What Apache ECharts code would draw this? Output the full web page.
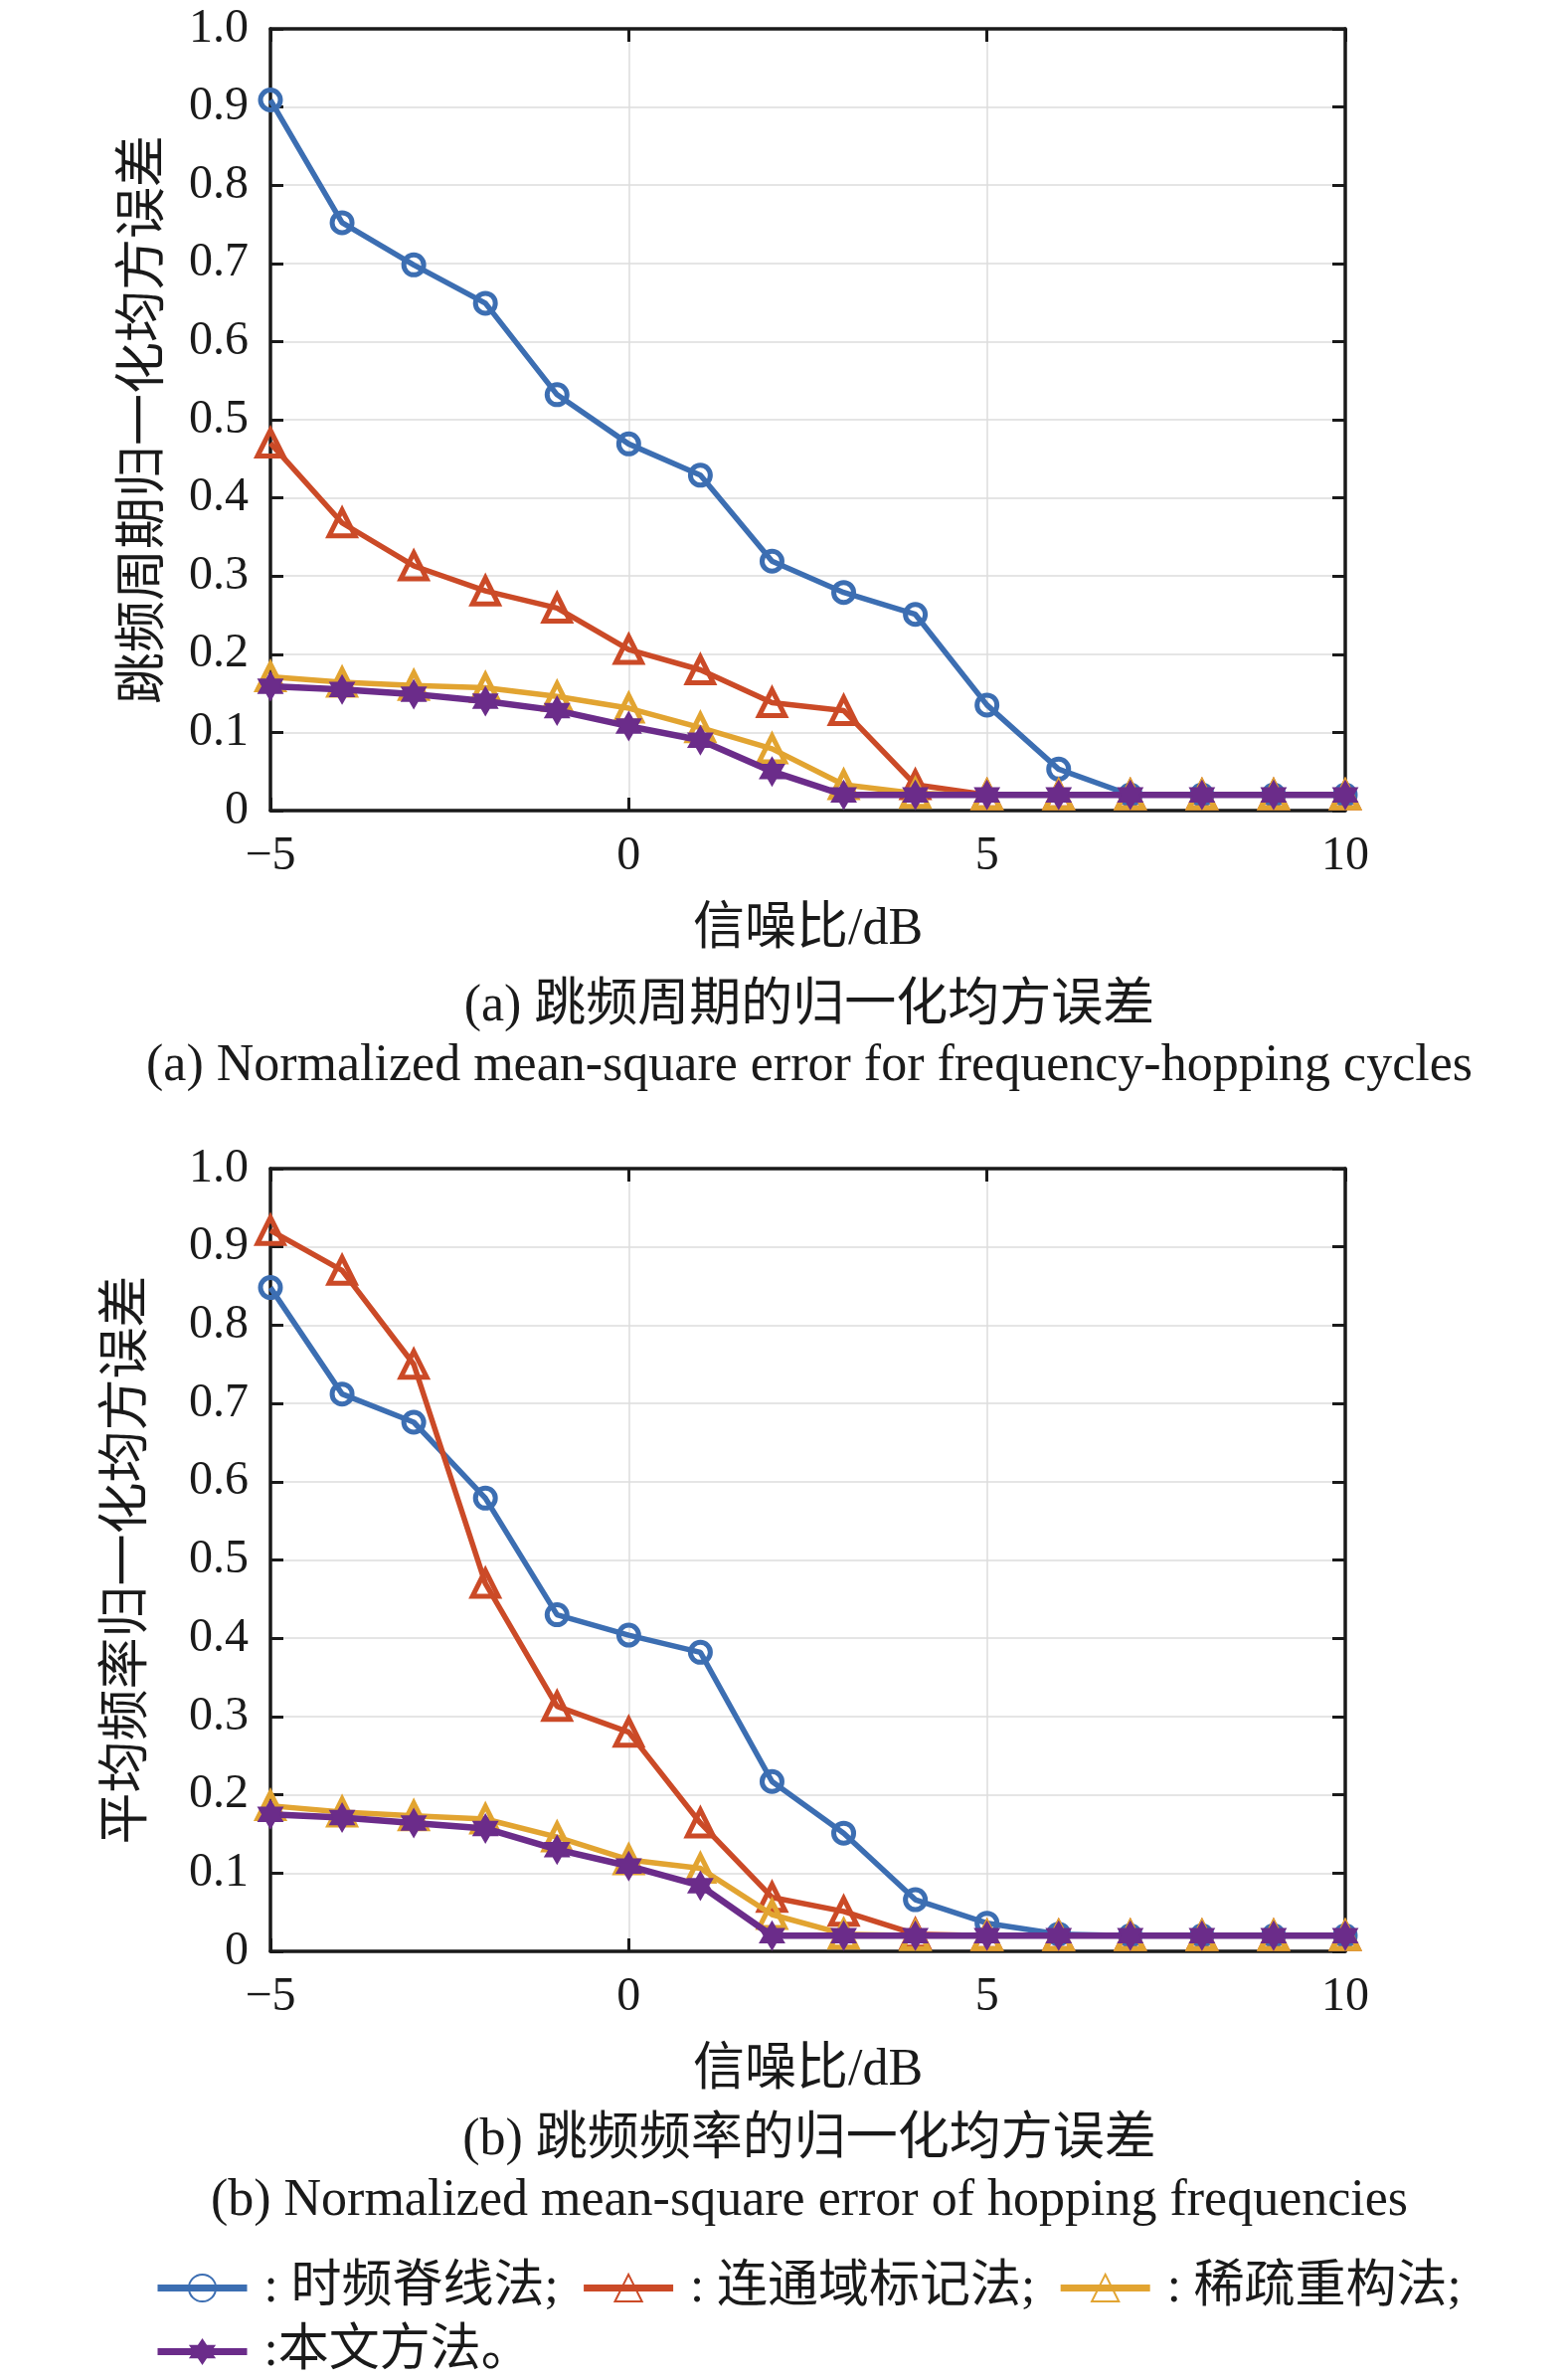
<!DOCTYPE html>
<html>
<head>
<meta charset="utf-8">
<script src="https://cdn.jsdelivr.net/npm/echarts@6/dist/echarts.min.js"></script>
<style>
  html, body { margin: 0; padding: 0; background: #fff; }
  #chart { width: 1575px; height: 2393px; }
</style>
</head>
<body>
<div id="chart"></div>
<script>
'use strict';
// SNR (dB)
var snr = [-5, -4, -3, -2, -1, 0, 1, 2, 3, 4, 5, 6, 7, 8, 9, 10];
var methods = ['时频脊线法', '连通域标记法', '稀疏重构法', '本文方法'];
var xTicks = [-5, 0, 5, 10];

// (a) hopping cycle NMSE
var cycleRidge = [0.909, 0.752, 0.698, 0.649, 0.532, 0.469, 0.429, 0.319, 0.279, 0.251, 0.135, 0.053, 0.02, 0.02, 0.02, 0.02];
var cycleLabel = [0.47, 0.368, 0.313, 0.281, 0.259, 0.206, 0.18, 0.138, 0.128, 0.033, 0.02, 0.02, 0.02, 0.02, 0.02, 0.02];
var cycleSparse = [0.171, 0.164, 0.16, 0.157, 0.146, 0.131, 0.106, 0.079, 0.033, 0.022, 0.02, 0.02, 0.02, 0.02, 0.02, 0.02];
var cycleProposed = [0.159, 0.155, 0.149, 0.14, 0.128, 0.108, 0.09, 0.05, 0.02, 0.02, 0.02, 0.02, 0.02, 0.02, 0.02, 0.02];

// (b) hopping frequency NMSE
var freqRidge = [0.848, 0.712, 0.676, 0.579, 0.43, 0.404, 0.382, 0.217, 0.151, 0.066, 0.036, 0.022, 0.02, 0.02, 0.02, 0.02];
var freqLabel = [0.921, 0.87, 0.75, 0.47, 0.313, 0.28, 0.164, 0.069, 0.051, 0.022, 0.02, 0.02, 0.02, 0.02, 0.02, 0.02];
var freqSparse = [0.186, 0.178, 0.173, 0.169, 0.146, 0.117, 0.106, 0.047, 0.022, 0.02, 0.02, 0.02, 0.02, 0.02, 0.02, 0.02];
var freqProposed = [0.175, 0.171, 0.164, 0.157, 0.13, 0.109, 0.084, 0.02, 0.02, 0.02, 0.02, 0.02, 0.02, 0.02, 0.02, 0.02];

var FONT = '"Liberation Serif", "Noto Sans CJK SC", serif';
var INK = '#1a1a1a';
var colors = ['#3c6eb2', '#cb4a27', '#e2a431', '#6b2c8a'];
var hexagram = 'path://M0,-10L2.887,-5L8.66,-5L5.774,0L8.66,5L2.887,5L0,10L-2.887,5L-8.66,5L-5.774,0L-8.66,-5L-2.887,-5Z';
var symbols = ['circle', 'triangle', 'triangle', hexagram];
var symbolSizes = [20, 26, 26, 31];

function pairs(ys) {
  return snr.map(function (x, i) { return [x, ys[i]]; });
}

function makeSeries(ys, k, gi) {
  var hollow = k < 3;
  return {
    name: methods[k],
    type: 'line',
    xAxisIndex: gi,
    yAxisIndex: gi,
    data: pairs(ys),
    symbol: symbols[k],
    symbolSize: symbolSizes[k],
    symbolKeepAspect: true,
    showAllSymbol: true,
    lineStyle: { color: colors[k], width: k === 3 ? 6.5 : 5.5 },
    itemStyle: {
      color: hollow ? 'rgba(255,255,255,0)' : colors[k],
      borderColor: colors[k],
      borderWidth: hollow ? 5 : 0
    },
    emphasis: { disabled: true },
    z: 2 + k
  };
}

var frame = { show: true, onZero: false, lineStyle: { color: INK, width: 3.5 } };
var tickIn = { show: true, inside: true, length: 13, lineStyle: { color: INK, width: 3 } };
var grid = { show: true, lineStyle: { color: '#dcdcdc', width: 1.5 } };

function xBottom(gi) {
  return {
    type: 'value', gridIndex: gi, min: -5, max: 10, interval: 5,
    axisLine: frame, axisTick: tickIn,
    axisLabel: {
      margin: 22, fontSize: 48, fontFamily: FONT, color: INK,
      formatter: function (v) { return xTicks.indexOf(v) < 0 ? '' : (v < 0 ? '\u2212' + Math.abs(v) : String(v)); }
    },
    splitLine: grid,
    name: '信噪比/dB', nameLocation: 'middle', nameGap: 94,
    nameTextStyle: { fontSize: 52, fontFamily: FONT, color: INK }
  };
}
function xTop(gi) {
  return {
    type: 'value', gridIndex: gi, position: 'top', min: -5, max: 10, interval: 5,
    axisLine: frame, axisTick: tickIn, axisLabel: { show: false }, splitLine: { show: false }
  };
}
function yLeft(gi, title, gap) {
  return {
    type: 'value', gridIndex: gi, min: 0, max: 1, interval: 0.1,
    axisLine: frame, axisTick: tickIn,
    axisLabel: {
      margin: 22, fontSize: 48, fontFamily: FONT, color: INK,
      formatter: function (v) { return v === 0 ? '0' : v.toFixed(1); }
    },
    splitLine: grid,
    name: title, nameLocation: 'middle', nameRotate: 90, nameGap: gap,
    nameTextStyle: { fontSize: 52, fontFamily: FONT, color: INK }
  };
}
function yRight(gi) {
  return {
    type: 'value', gridIndex: gi, position: 'right', min: 0, max: 1, interval: 0.1,
    axisLine: frame, axisTick: tickIn, axisLabel: { show: false }, splitLine: { show: false }
  };
}

function caption(text, y) {
  return {
    type: 'text', x: 814, y: y,
    style: { text: text, fill: INK, font: '52px ' + FONT, align: 'center', verticalAlign: 'middle' }
  };
}

var legendBase = {
  orient: 'horizontal', left: 150,
  itemWidth: 90, itemHeight: 34, itemGap: 22,
  lineStyle: { width: 7 },
  textStyle: { fontSize: 51, fontFamily: FONT, color: INK, padding: [0, 0, 0, 12] },
  selectedMode: false
};

var chart = echarts.init(document.getElementById('chart'), null, { renderer: 'canvas' });
chart.setOption({
  backgroundColor: '#ffffff',
  animation: false,
  grid: [
    { left: 272, top: 29, width: 1081, height: 786 },
    { left: 272, top: 1175, width: 1081, height: 787 }
  ],
  xAxis: [xBottom(0), xBottom(1), xTop(0), xTop(1)],
  yAxis: [
    yLeft(0, '跳频周期归一化均方误差', 100),
    yLeft(1, '平均频率归一化均方误差', 117),
    yRight(0), yRight(1)
  ],
  legend: [
    Object.assign({}, legendBase, {
      top: 2270, data: methods.slice(0, 3),
      formatter: function (n) { return ': ' + n + ';'; }
    }),
    Object.assign({}, legendBase, {
      top: 2334, data: methods.slice(3),
      formatter: function (n) { return ':' + n + '。'; }
    })
  ],
  graphic: [
    caption('(a) 跳频周期的归一化均方误差', 1012),
    caption('(a) Normalized mean-square error for frequency-hopping cycles', 1072),
    caption('(b) 跳频频率的归一化均方误差', 2152),
    caption('(b) Normalized mean-square error of hopping frequencies', 2213)
  ],
  series: [
    makeSeries(cycleRidge, 0, 0),
    makeSeries(cycleLabel, 1, 0),
    makeSeries(cycleSparse, 2, 0),
    makeSeries(cycleProposed, 3, 0),
    makeSeries(freqRidge, 0, 1),
    makeSeries(freqLabel, 1, 1),
    makeSeries(freqSparse, 2, 1),
    makeSeries(freqProposed, 3, 1)
  ]
});
</script>
</body>
</html>
